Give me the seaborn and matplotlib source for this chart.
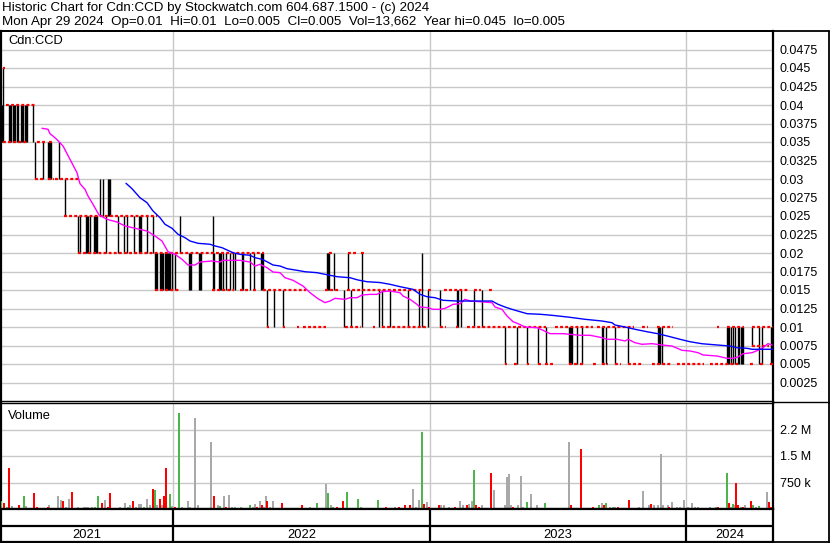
import numpy as np
import pandas as pd
import matplotlib
matplotlib.use("Agg")
import matplotlib.pyplot as plt
import seaborn as sns
from matplotlib.lines import Line2D

# ------------------------------------------------------------------ data
# x values are trading-day numbers along the chart (about one per pixel column)
header1 = "Historic Chart for Cdn:CCD by Stockwatch.com 604.687.1500 - (c) 2024"
header2 = "Mon Apr 29 2024  Op=0.01  Hi=0.01  Lo=0.005  Cl=0.005  Vol=13,662  Year hi=0.045  lo=0.005"

year_labels = ["2021", "2022", "2023", "2024"]
year_starts = [1.5, 173, 430, 686]
day_end = 773

price_ticks = [0.0025, 0.005, 0.0075, 0.01, 0.0125, 0.015, 0.0175, 0.02, 0.0225, 0.025,
               0.0275, 0.03, 0.0325, 0.035, 0.0375, 0.04, 0.0425, 0.045, 0.0475]
price_tick_labels = ["0.0025", "0.005", "0.0075", "0.01", "0.0125", "0.015", "0.0175", "0.02",
                     "0.0225", "0.025", "0.0275", "0.03", "0.0325", "0.035", "0.0375", "0.04",
                     "0.0425", "0.045", "0.0475"]
vol_ticks = [0.75, 1.5, 2.25]          # millions
vol_tick_labels = ["750 k", "1.5 M", "2.2 M"]

# runs of daily close ticks (price, first day, last day)
run_price = [0.045, 0.04, 0.035, 0.035, 0.035, 0.03, 0.03, 0.03, 0.025,
             0.02, 0.02, 0.02, 0.02,
             0.015, 0.015, 0.015, 0.015, 0.015, 0.015, 0.015, 0.015, 0.015, 0.015, 0.015,
             0.01, 0.01, 0.01, 0.01, 0.01, 0.01, 0.01, 0.01, 0.01, 0.01, 0.01, 0.01,
             0.01, 0.01, 0.01, 0.01, 0.01,
             0.0075,
             0.005, 0.005, 0.005, 0.005, 0.005, 0.005, 0.005, 0.005, 0.005, 0.005,
             0.005, 0.005, 0.005, 0.005, 0.005, 0.005, 0.005]
run_start = [3, 6, 3, 37, 49, 35, 48, 55, 64,
             78, 329, 348, 361,
             155, 212, 240, 253, 263, 325, 347, 428, 444, 474, 489,
             267, 283, 297, 303, 345, 373, 382, 440, 456, 467, 555, 597,
             642, 657, 717, 727, 752,
             752,
             505, 514, 527, 538, 545, 569, 580, 593, 602, 615,
             628, 652, 677, 710, 750, 760, 770]
run_end = [4, 35, 26, 44, 53, 44, 53, 78, 156,
           263, 331, 356, 363,
           178, 233, 247, 257, 305, 338, 423, 430, 467, 480, 492,
           268, 284, 298, 325, 360, 374, 425, 445, 457, 545, 592, 633,
           647, 672, 718, 743, 773,
           768,
           506, 517, 528, 541, 552, 577, 583, 595, 607, 620,
           642, 670, 703, 737, 752, 763, 772]

# high-low range bars
bar_day = [3,
           1, 2, 9, 10, 11, 13, 14, 15, 17, 18, 21, 22, 23, 25, 26, 27, 33,
           35, 43, 48, 49, 50, 51, 59,
           65, 100, 103, 108, 109, 110,
           78, 80, 86, 87, 88, 90, 94, 95, 96, 97, 106, 118, 124, 127, 134, 139, 140, 141, 147, 153, 180,
           213,
           155, 156, 157, 160, 161, 162, 163, 165, 166, 167, 168, 169, 170, 172, 175, 189, 190, 191,
           199, 200, 201, 214, 219, 220, 221, 223, 226, 230, 233, 235, 242, 243, 250, 254, 261, 262,
           263, 327, 328, 329, 334, 348,
           362, 422,
           267, 274, 283, 344, 351, 379, 382, 390, 408, 419, 428, 440, 457, 458, 461, 474, 482,
           505, 517, 527, 538, 546, 569, 570, 571, 572, 577, 582, 602, 603, 606, 615, 628, 658, 659,
           660, 662, 727, 728, 729, 731, 733, 735, 738, 739, 741, 742, 743, 759, 762, 771, 772,
           752]
bar_lo = ([0.035] + [0.035] * 17 + [0.03] * 7 + [0.025] * 6 + [0.02] * 21 + [0.015]
          + [0.015] * 42 + [0.01] * 2 + [0.01] * 17 + [0.005] * 35 + [0.0075])
bar_hi = ([0.045] + [0.04] * 17 + [0.035] * 7 + [0.03] * 6 + [0.025] * 21 + [0.025]
          + [0.02] * 42 + [0.02] * 2 + [0.015] * 17 + [0.01] * 35 + [0.01])

# moving averages
ma_short_day = [42, 48, 50, 55, 59, 63, 70, 77, 80, 85, 88, 93, 99, 107, 117, 125, 135, 147, 155,
                162, 168, 175, 182, 188, 195, 200, 212, 220, 223, 240, 250, 255, 260, 267, 273,
                280, 285, 293, 303, 310, 318, 325, 330, 335, 345, 350, 357, 362, 370, 377, 382,
                390, 400, 403, 410, 417, 420, 428, 433, 440, 445, 450, 453, 460, 465, 470, 480,
                492, 495, 502, 507, 513, 518, 525, 537, 543, 550, 563, 570, 580, 590, 602, 607,
                617, 625, 628, 635, 642, 652, 662, 672, 682, 690, 698, 703, 717, 727, 733, 738,
                743, 752, 758, 763, 768, 772]
ma_short_val = [0.03685, 0.03672, 0.03612, 0.03558, 0.03504, 0.03446, 0.03266, 0.03085, 0.02936,
                0.02861, 0.0277, 0.02658, 0.02514, 0.02455, 0.02419, 0.02365, 0.02334, 0.02297,
                0.0223, 0.02162, 0.02018, 0.01982, 0.01915, 0.01838, 0.01838, 0.01878, 0.01892,
                0.01878, 0.01901, 0.01901, 0.01878, 0.01824, 0.01847, 0.01802, 0.01743, 0.01734,
                0.01666, 0.01631, 0.01554, 0.01464, 0.01382, 0.01329, 0.01351, 0.01387, 0.01374,
                0.01396, 0.01396, 0.01432, 0.01441, 0.01441, 0.01477, 0.01486, 0.01464, 0.01419,
                0.01374, 0.01306, 0.0127, 0.01261, 0.01239, 0.01239, 0.01252, 0.01284, 0.01306,
                0.01315, 0.01374, 0.01351, 0.01342, 0.01329, 0.0127, 0.01239, 0.01149, 0.01072,
                0.01045, 0.01, 0.00991, 0.00955, 0.0091, 0.0091, 0.00901, 0.00888, 0.00888,
                0.00856, 0.00834, 0.00834, 0.00811, 0.00834, 0.00788, 0.00766, 0.00775, 0.00757,
                0.00743, 0.00685, 0.00676, 0.00653, 0.00622, 0.00608, 0.00577, 0.00577, 0.00595,
                0.00639, 0.00653, 0.00685, 0.00721, 0.00775, 0.00757]
ma_long_day = [126, 132, 140, 147, 153, 160, 165, 172, 178, 185, 190, 198, 210, 215, 222, 227, 233,
               240, 250, 255, 262, 267, 273, 280, 287, 297, 305, 317, 325, 337, 350, 358, 367, 380,
               390, 400, 413, 420, 427, 435, 443, 457, 473, 492, 498, 505, 512, 520, 527, 540, 552,
               558, 570, 585, 602, 612, 615, 625, 635, 647, 658, 670, 680, 690, 702, 717, 730, 737,
               747, 752, 773]
ma_long_val = [0.02942, 0.02869, 0.02747, 0.0268, 0.02568, 0.02477, 0.02388, 0.02334, 0.02253,
               0.02207, 0.02162, 0.02131, 0.02118, 0.02095, 0.02072, 0.02041, 0.02004, 0.01982,
               0.01969, 0.01937, 0.01915, 0.01882, 0.01838, 0.01824, 0.01788, 0.01766, 0.01747,
               0.01734, 0.01712, 0.0168, 0.01666, 0.01635, 0.01612, 0.01601, 0.01577, 0.01545,
               0.01509, 0.01442, 0.01409, 0.01396, 0.01361, 0.01351, 0.01351, 0.01351, 0.01307,
               0.0127, 0.01239, 0.01207, 0.0118, 0.01172, 0.01158, 0.01149, 0.01131, 0.01104,
               0.01081, 0.01058, 0.01027, 0.01, 0.00969, 0.00936, 0.00909, 0.00869, 0.00834,
               0.00801, 0.00774, 0.00757, 0.00743, 0.0072, 0.00712, 0.00699, 0.00699]

# daily volume in millions, split by close direction
vol_up_day = [1, 7, 24, 40, 43, 81, 95, 98, 128, 144, 155, 170, 179, 220, 238, 250, 317, 328, 333,
              347, 358, 361, 378, 422, 474, 527, 545, 599, 606, 613, 622, 665, 716, 727, 733, 741,
              753, 759]
vol_up_m = [.23, .05, .37, .04, .03, .04, .06, .37, .05, .05, .53, .43, 2.72, .08, .04, .10, .17,
            .46, .05, .49, .28, .06, .26, 2.17, 1.11, .20, .17, .10, .17, .06, .03, .03, .06, 1.03,
            .14, .06, .11, .09]
vol_down_day = [4, 9, 19, 34, 37, 48, 54, 63, 72, 76, 102, 108, 110, 117, 133, 153, 160, 164, 166,
                175, 184, 214, 222, 226, 245, 257, 262, 267, 282, 302, 306, 337, 343, 351, 370, 386,
                390, 399, 405, 410, 424, 429, 439, 455, 467, 476, 479, 491, 513, 540, 548, 571, 577,
                581, 593, 604, 618, 629, 651, 659, 669, 718, 729, 736, 738, 743, 751, 765, 769, 771]
vol_down_m = [.18, 1.15, .10, .46, .05, .05, .03, .23, .49, .03, .18, .06, .46, .04, .23, .57, .28,
              .37, 1.15, .05, .03, .37, .04, .06, .03, .06, .10, .23, .18, .10, .03, .06, .23, .04,
              .04, .05, .04, .05, .10, .12, .14, .06, .10, .06, .11, .11, .06, 1.03, .06, .03, .03,
              .11, .03, 1.71, .06, .11, .06, .26, .15, .03, .06, .06, .17, .74, .11, .06, .23, .03,
              .20, .06]
vol_flat_day = [12, 14, 21, 26, 30, 49, 58, 61, 66, 69, 78, 84, 86, 88, 92, 105, 114, 120, 125, 130,
                136, 139, 141, 147, 150, 157, 162, 172, 182, 188, 190, 195, 198, 201, 207, 211, 218,
                224, 229, 232, 235, 241, 247, 253, 255, 260, 264, 266, 270, 273, 276, 280, 285, 289,
                295, 310, 314, 323, 326, 331, 355, 365, 381, 395, 401, 413, 416, 419, 427, 432, 435,
                441, 444, 449, 460, 463, 469, 472, 482, 486, 489, 494, 499, 502, 505, 507, 509, 511,
                518, 521, 523, 531, 537, 554, 557, 561, 565, 569, 574, 584, 587, 597, 602, 610, 615,
                636, 639, 643, 649, 654, 658, 661, 663, 668, 672, 677, 680, 684, 688, 692, 695, 698,
                702, 705, 710, 722, 725, 731, 734, 745, 748, 756, 763, 767]
vol_flat_m = [.08, .04, .04, .08, .03, .10, .37, .26, .05, .28, .06, .07, .07, .07, .05, .26, .03,
              .06, .18, .10, .05, .15, .14, .28, .10, .12, .12, .08, .05, .23, .05, 2.57, .10, .03,
              .03, 1.91, .10, .37, .40, .05, .05, .05, .03, .06, .14, .23, .06, .37, .05, .23, .04,
              .03, .04, .03, .03, .05, .03, .04, .71, .10, .04, .03, .04, .05, .04, .57, .06, .26,
              .20, .03, .03, .11, .11, .06, .23, .11, .14, .23, .11, .03, .03, .54, .03, .03, .11,
              .91, 1.00, .11, .11, .94, .06, .43, .11, .03, .03, .03, .03, 1.89, .03, .03, .03, .03,
              .17, .06, .06, .03, .06, .50, .11, .11, .11, 1.57, .11, .11, .20, .06, .06, .26, .06,
              .17, .06, .06, .03, .03, .06, .03, .03, .06, .11, .11, .03, .06, .03, .49]

# ------------------------------------------------------------------ style
sns.set_theme(style="white")
plt.rcParams['font.family'] = ['Liberation Sans', 'DejaVu Sans']
TXT = "#000000"
GRID = "#c8c8c8"
C_UP, C_DOWN, C_FLAT = "#4cb64c", "#ff0000", "#a9a9a9"

W, H = 830, 543
fig = plt.figure(figsize=(W / 100, H / 100), dpi=100)
fig.patch.set_facecolor("white")


def rect(x0, y0, x1, y1):
    return [x0 / W, 1 - y1 / H, (x1 - x0) / W, (y1 - y0) / H]


X0, X1 = 1.0, 773.0
ax = fig.add_axes(rect(X0, 31, X1, 401))
axv = fig.add_axes(rect(X0, 403, X1, 509))
axy = fig.add_axes(rect(X0, 509, X1, 542))
year_bounds = year_starts[1:]

# ---------------- price panel
ax.set_xlim(X0, X1)
ax.set_ylim(0, 0.05)
for p in price_ticks:
    ax.axhline(p, color=GRID, lw=1.0, zorder=0)
for b in year_bounds:
    ax.axvline(b, color=GRID, lw=1.0, zorder=0)

ax.vlines(bar_day, bar_lo, bar_hi, colors="black", lw=1.0, zorder=2)
ax.hlines(run_price, np.array(run_start), np.array(run_end) + 1, colors="#ff0000",
          lw=1.6, linestyles=(0, (1.3, 1.0)), zorder=3)

ma = pd.DataFrame({"day": ma_short_day, "val": ma_short_val})
ml = pd.DataFrame({"day": ma_long_day, "val": ma_long_val})
sns.lineplot(data=ma, x="day", y="val", ax=ax, color="#ff00ff", lw=1.0, estimator=None, zorder=4)
sns.lineplot(data=ml, x="day", y="val", ax=ax, color="#0000ff", lw=1.0, estimator=None, zorder=4)

ax.yaxis.tick_right()
ax.set_yticks(price_ticks)
ax.set_yticklabels(price_tick_labels)
ax.tick_params(axis="y", length=0, pad=5, labelsize=9, labelcolor=TXT)
ax.set_xticks([])
ax.set_xlabel("")
ax.set_ylabel("")
ax.text(0.009, 0.988, "Cdn:CCD", transform=ax.transAxes, ha="left", va="top", fontsize=9.3, color=TXT)
for s in ["left", "right"]:
    ax.spines[s].set_linewidth(1.6)
ax.spines["top"].set_linewidth(1.3)
ax.spines["bottom"].set_linewidth(1.0)
for s in ax.spines.values():
    s.set_color("black")

# ---------------- volume panel
axv.set_xlim(X0, X1)
axv.set_ylim(0, 3.0)
for v in vol_ticks:
    axv.axhline(v, color=GRID, lw=1.0, zorder=0)
for b in year_bounds:
    axv.axvline(b, color=GRID, lw=1.0, zorder=0)
axv.bar(vol_flat_day, vol_flat_m, width=1.8, color=C_FLAT, lw=0, zorder=2)
axv.bar(vol_down_day, vol_down_m, width=1.8, color=C_DOWN, lw=0, zorder=3)
axv.bar(vol_up_day, vol_up_m, width=1.8, color=C_UP, lw=0, zorder=3)
axv.yaxis.tick_right()
axv.set_yticks(vol_ticks)
axv.set_yticklabels(vol_tick_labels)
axv.tick_params(axis="y", length=0, pad=5, labelsize=9, labelcolor=TXT)
axv.set_xticks([])
axv.text(0.009, 0.93, "Volume", transform=axv.transAxes, ha="left", va="top", fontsize=9.3, color=TXT)
for s in ["left", "right", "bottom"]:
    axv.spines[s].set_linewidth(1.6)
axv.spines["top"].set_linewidth(1.0)
for s in axv.spines.values():
    s.set_color("black")

# ---------------- year strip
axy.set_xlim(X0, X1)
axy.set_ylim(0, 2)
axy.set_xticks([])
axy.set_yticks([])
axy.axhline(0.97, color="black", lw=1.6)
axy.vlines(year_bounds, 0, 2, colors="black", lw=1.6)
edges = year_starts + [day_end]
for i, lab in enumerate(year_labels):
    axy.text((edges[i] + edges[i + 1]) / 2, 0.45, lab, ha="center", va="center", fontsize=9.3, color=TXT)
for s in axy.spines.values():
    s.set_color("black")
    s.set_linewidth(1.6)

# ---------------- frame / header
fig.add_artist(Line2D([0, 829 / W], [1 - 31 / H] * 2, color="black", lw=1.3))
fig.add_artist(Line2D([828.5 / W] * 2, [0, 1 - 31 / H], color="black", lw=1.3))
fig.add_artist(Line2D([773 / W, 829 / W], [1 - 401.5 / H] * 2, color="black", lw=1.0))
fig.add_artist(Line2D([773 / W, 829 / W], [1 - 542 / H] * 2, color="black", lw=1.3))
fig.text(2 / W, 1 - 8.5 / H, header1, ha="left", va="center", fontsize=9.6, color=TXT)
fig.text(2 / W, 1 - 22.5 / H, header2, ha="left", va="center", fontsize=9.6, color=TXT)

fig.savefig("out.png", dpi=100, facecolor="white")
